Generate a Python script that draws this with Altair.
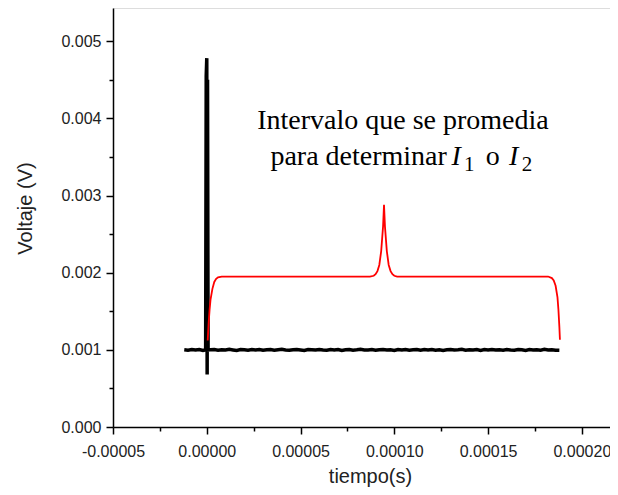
import altair as alt
import pandas as pd
import numpy as np

# ---------------- data ----------------
# black trace: baseline (V) with noise read as deviations in microvolts
base_level = 0.001
noise_uv = [2, -4, 4, -2, 5, -7,
            1, 3, -5, 2, -3, 6, -1, -8, 4, 0, -4, 3, -2, 5,
            -6, 2, 3, -4, 1, 6, -3, -6, 2, 4, -2, -7, 3, 1, -3, 5,
            -1, -5, 3, -2, 4, -7, 2, 5, -4, 0, 6, -3, -1, 3, -6, 2,
            4, -3, 1, -8, 4, -2, 5, -4, 1, 3, -6, 3, -1, 5, -4, 2,
            -7, 2, 4, -3, 0, 6, -5, 1, -2, 4, -7, 3, -1, 5, -3, 2,
            -6, 4, -2, -4, 3, 1, -7, 5, -2, 1, -4, 6, -3, 2, -5, -6]
noise_t_us = [t for t in range(-12, 190, 2) if t != 0]
spike_t_us = [-0.6, -0.3, 0.0, 0.2, 0.4, 0.7]
spike_v = [0.00100, 0.00455, 0.00478, 0.00068, 0.00450, 0.00100]

# red trace (time in microseconds, voltage in millivolts)
red_t_us = [0.5, 1.0, 1.5, 2.0, 3.0, 4.0, 5.0, 6.0, 8.0,
            20, 40, 60, 80, 87, 89, 90, 91, 92, 93, 94, 94.5, 95, 96, 97,
            98, 99, 100, 101.5, 120, 140, 160, 180, 182, 184, 185, 186,
            187, 187.5, 188, 188.3]
red_mv = [1.12, 1.35, 1.52, 1.65, 1.79, 1.88, 1.92, 1.94, 1.95,
          1.95, 1.95, 1.95, 1.95, 1.95, 1.96, 1.98, 2.02, 2.10, 2.28, 2.60, 2.88, 2.60, 2.28, 2.10,
          2.02, 1.98, 1.96, 1.95, 1.95, 1.95, 1.95, 1.95, 1.95, 1.93, 1.90, 1.83,
          1.68, 1.52, 1.30, 1.13]

# axis ticks
x_ticks = [-0.00005, -0.000025, 0.0, 0.000025, 0.00005, 0.000075, 0.0001,
           0.000125, 0.00015, 0.000175, 0.0002]
y_ticks = [0.0, 0.0005, 0.001, 0.0015, 0.002, 0.0025, 0.003, 0.0035,
           0.004, 0.0045, 0.005]

# annotation pieces
ann_text = ["Intervalo que se promedia", "para determinar", "I", "1", "o", "I", "2"]
ann_x = [0.0001046, 0.0001280, 0.0001305, 0.0001372, 0.0001488, 0.0001612, 0.0001680]
ann_y = [0.003862, 0.003395, 0.003395, 0.003320, 0.003395, 0.003395, 0.003320]
ann_kind = ["center", "right", "italic", "sub", "normal", "italic", "sub"]

# ---------------- tables ----------------
black_rows = []
for t, d in zip(noise_t_us, noise_uv):
    black_rows.append({"t": t * 1e-6, "v": base_level + d * 1e-6})
for t, v in zip(spike_t_us, spike_v):
    black_rows.append({"t": t * 1e-6, "v": v})
black = pd.DataFrame(black_rows).sort_values("t")
red = pd.DataFrame({"t": [t * 1e-6 for t in red_t_us], "v": [m * 1e-3 for m in red_mv]})
ann = pd.DataFrame({"text": ann_text, "t": ann_x, "v": ann_y, "kind": ann_kind})

W, H = 497, 419
major_x = "abs(datum.value*20000 - round(datum.value*20000)) < 0.01"
major_y = "abs(datum.value*1000 - round(datum.value*1000)) < 0.01"

label_font = "Liberation Sans"

x_axis = alt.Axis(
    values=x_ticks, format=".5f",
    labelExpr=f"{major_x} ? replace(datum.label, '\u2212', '-') : ''",
    tickSize={"condition": {"test": major_x, "value": 7}, "value": 4},
    labelOverlap=False, labelFlush=False, grid=False,
    labelFont=label_font, labelFontSize=16, labelColor="#222", labelPadding=9,
    title="tiempo(s)", titleFont=label_font, titleFontSize=20,
    titleFontWeight="normal", titleColor="#222",
    titleX=257, titleY=49, titleBaseline="middle", titleAnchor="middle",
    domainColor="black", domainWidth=1.5, tickColor="black", tickWidth=1.5,
)
y_axis = alt.Axis(
    values=y_ticks, format=".3f",
    labelExpr=f"{major_y} ? datum.label : ''",
    tickSize={"condition": {"test": major_y, "value": 7}, "value": 4},
    labelOverlap=False, labelFlush=False, grid=False,
    labelFont=label_font, labelFontSize=16, labelColor="#222", labelPadding=5,
    title="Voltaje (V)", titleFont=label_font, titleFontSize=20,
    titleFontWeight="normal", titleColor="#222",
    titleX=-88, titleY=200, titleBaseline="middle", titleAnchor="middle",
    domainColor="black", domainWidth=1.5, tickColor="black", tickWidth=1.5,
)

x_enc = alt.X("t:Q", scale=alt.Scale(domain=[-0.00005, 0.000215], nice=False, zero=False), axis=x_axis)
y_enc = alt.Y("v:Q", scale=alt.Scale(domain=[0, 0.00543], nice=False, zero=False), axis=y_axis)

black_line = alt.Chart(black).mark_line(color="black", strokeWidth=3.5, strokeJoin="miter").encode(x=x_enc, y=y_enc)
red_line = alt.Chart(red).mark_line(color="#ff0000", strokeWidth=1.8).encode(x=x_enc, y=y_enc)

serif = "Liberation Serif"
ann_base = alt.Chart(ann)
t_center = ann_base.transform_filter("datum.kind == 'center'").mark_text(
    font=serif, fontSize=28, align="center", baseline="alphabetic", color="black").encode(x=x_enc, y=y_enc, text="text:N")
t_right = ann_base.transform_filter("datum.kind == 'right'").mark_text(
    font=serif, fontSize=28, align="right", baseline="alphabetic", color="black").encode(x=x_enc, y=y_enc, text="text:N")
t_normal = ann_base.transform_filter("datum.kind == 'normal'").mark_text(
    font=serif, fontSize=28, align="left", baseline="alphabetic", color="black").encode(x=x_enc, y=y_enc, text="text:N")
t_italic = ann_base.transform_filter("datum.kind == 'italic'").mark_text(
    font=serif, fontSize=28, fontStyle="italic", align="left", baseline="alphabetic", color="black").encode(x=x_enc, y=y_enc, text="text:N")
t_sub = ann_base.transform_filter("datum.kind == 'sub'").mark_text(
    font=serif, fontSize=21, align="left", baseline="alphabetic", color="black").encode(x=x_enc, y=y_enc, text="text:N")

chart = alt.layer(black_line, red_line, t_center, t_right, t_normal, t_italic, t_sub).properties(
    width=W, height=H, autosize="none",
    padding={"left": 105, "top": 0, "right": 0, "bottom": 60},
).configure_view(stroke=None).configure(background="white")

chart.save("out.html", embed_options={"renderer": "svg", "actions": False})
